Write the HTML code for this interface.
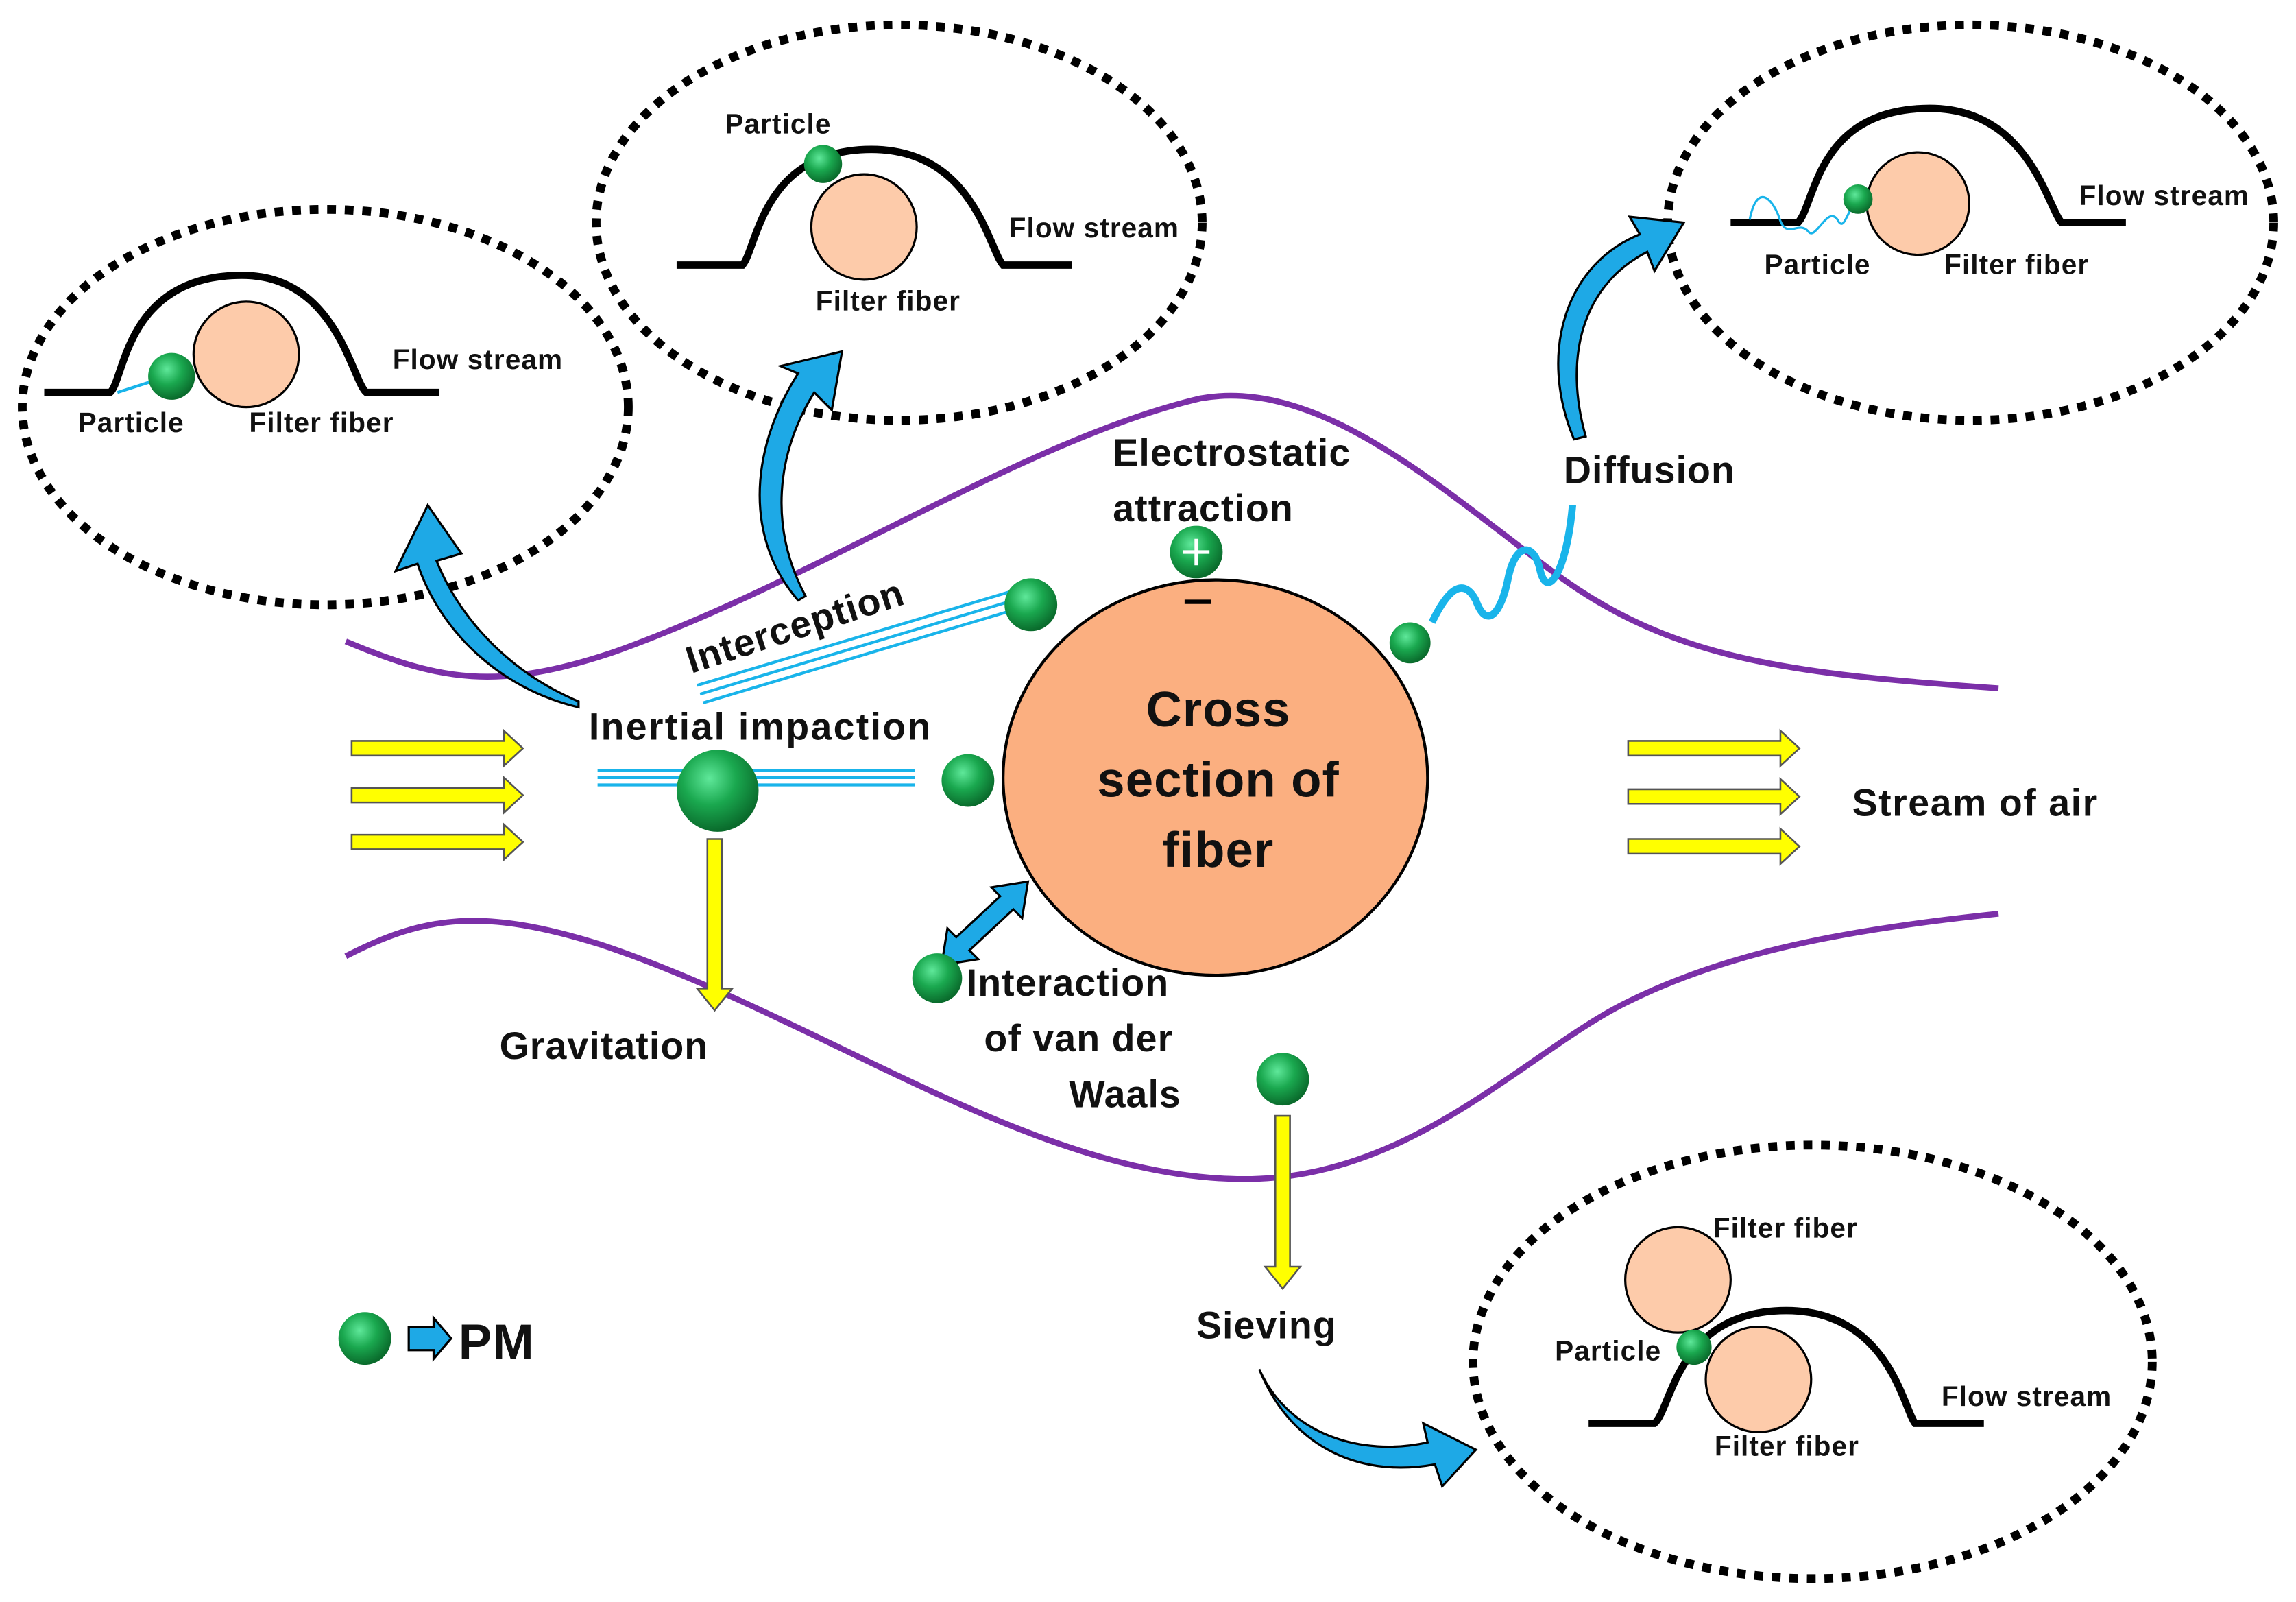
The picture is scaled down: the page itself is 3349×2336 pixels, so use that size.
<!DOCTYPE html>
<html><head><meta charset="utf-8"><style>
html,body{margin:0;padding:0;background:#fff;}
svg{display:block;}
text{font-family:"Liberation Sans",sans-serif;font-weight:bold;fill:#111;letter-spacing:0.5px;}
</style></head><body>
<svg width="3349" height="2336" viewBox="0 0 1568 1094" xmlns="http://www.w3.org/2000/svg">
<defs>
<radialGradient id="g" cx="40%" cy="35%" r="65%">
<stop offset="0" stop-color="#5fe89a"/><stop offset="0.5" stop-color="#1aa84f"/><stop offset="1" stop-color="#0a6b2c"/>
</radialGradient>
</defs>
<g fill="none" stroke="#000" stroke-width="6" stroke-dasharray="6 6">
<ellipse cx="222" cy="278" rx="207" ry="135"/>
<ellipse cx="614" cy="152" rx="207" ry="135"/>
<ellipse cx="1346" cy="152" rx="207" ry="135"/>
<ellipse cx="1238" cy="930" rx="232" ry="148"/>
</g>
<g fill="none" stroke="#7b2fa8" stroke-width="4">
<path d="M236,438 C300,465 340,472 420,445 C560,395 700,300 820,272 C900,258 980,330 1060,390 C1140,450 1220,460 1365,470"/>
<path d="M236,653 C290,625 330,620 410,645 C560,695 700,800 840,805 C960,810 1040,720 1110,685 C1180,650 1260,635 1365,624"/>
</g>
<ellipse cx="830" cy="531" rx="145" ry="135" fill="#FBAF80" stroke="#000" stroke-width="2"/>
<text x="832" y="496" font-size="34" text-anchor="middle">Cross</text>
<text x="832" y="544" font-size="34" text-anchor="middle">section of</text>
<text x="832" y="592" font-size="34" text-anchor="middle">fiber</text>
<g fill="#ffff00" stroke="#555" stroke-width="1.2">
<path d="M240,506 H344 V499 L357,511 L344,523 V516 H240Z"/>
<path d="M240,538 H344 V531 L357,543 L344,555 V548 H240Z"/>
<path d="M240,570 H344 V563 L357,575 L344,587 V580 H240Z"/>
<path d="M1112,506 H1216 V499 L1229,511 L1216,523 V516 H1112Z"/>
<path d="M1112,539 H1216 V532 L1229,544 L1216,556 V549 H1112Z"/>
<path d="M1112,573 H1216 V566 L1229,578 L1216,590 V583 H1112Z"/>
<path d="M483,573 H493 V675 H500 L488,690 L476,675 H483Z"/>
<path d="M871,762 H881 V865 H888 L876,880 L864,865 H871Z"/>
</g>
<g stroke="#19b4ea" stroke-width="2" fill="none">
<path d="M408,526 H625 M408,531 H625 M408,536 H625"/>
<path d="M476,468 L690,404 M478,474 L692,410 M480,480 L694,416"/>
<path d="M978,425 C990,400 1000,395 1008,410 C1015,430 1025,420 1030,395 C1035,370 1048,370 1052,390 C1057,410 1070,390 1074,345" stroke-width="5"/>
</g>
<g fill="#1ea9e6" stroke="#000" stroke-width="1.5">
<path d="M395,483 C340,470 300,430 285,385 L270,390 L292,345 L315,378 L298,383 C315,425 350,460 395,479Z"/>
<path d="M545,410 C510,370 510,310 545,255 L533,250 L575,240 L568,280 L556,268 C530,310 525,360 550,407Z"/>
<path d="M1075,300 C1050,240 1070,180 1120,160 L1113,148 L1150,152 L1130,185 L1125,172 C1080,195 1068,245 1083,298Z"/>
<path d="M860,935 C880,980 930,995 975,985 L972,972 L1008,990 L985,1015 L980,1000 C925,1010 880,985 860,935Z"/>
<path d="M653,640 L683,612 L677,606 L702,602 L698,627 L692,621 L662,649 L668,655 L643,659 L647,634Z"/>
<path d="M279,906 H296 V900 L308,914 L296,928 V922 H279Z"/>
</g>
<g fill="url(#g)">
<circle cx="490" cy="540" r="28"/>
<circle cx="704" cy="413" r="18"/>
<circle cx="661" cy="533" r="18"/>
<circle cx="963" cy="439" r="14"/>
<circle cx="817" cy="377" r="18"/>
<circle cx="640" cy="668" r="17"/>
<circle cx="876" cy="737" r="18"/>
<circle cx="249" cy="914" r="18"/>
</g>
<path d="M808,377 H826 M817,368 V386" stroke="#fff" stroke-width="2.5"/>
<path d="M809,411 H827" stroke="#000" stroke-width="3"/>
<text x="760" y="318" font-size="26">Electrostatic</text>
<text x="760" y="356" font-size="26">attraction</text>
<text x="1068" y="330" font-size="26">Diffusion</text>
<text x="402" y="505" font-size="26" textLength="234">Inertial impaction</text>
<text x="0" y="0" font-size="26" transform="translate(472,460) rotate(-18)">Interception</text>
<text x="1265" y="557" font-size="26" textLength="168">Stream of air</text>
<text x="341" y="723" font-size="26">Gravitation</text>
<text x="660" y="680" font-size="26">Interaction</text>
<text x="672" y="718" font-size="26">of van der</text>
<text x="730" y="756" font-size="26">Waals</text>
<text x="817" y="914" font-size="26">Sieving</text>
<text x="313" y="928" font-size="34">PM</text>
<path d="M30,268 H75 C85,260 85,188 165,188 C230,188 240,260 250,268 H300" fill="none" stroke="#000" stroke-width="5"/>
<line x1="80" y1="268" x2="108" y2="259" stroke="#19b4ea" stroke-width="2"/>
<circle cx="168" cy="242" r="36" fill="#FDCBAA" stroke="#000" stroke-width="1.5"/>
<circle cx="117" cy="257" r="16" fill="url(#g)"/>
<text x="53" y="295" font-size="19">Particle</text>
<text x="170" y="295" font-size="19">Filter fiber</text>
<text x="268" y="252" font-size="19">Flow stream</text>
<path d="M462,181 H507 C517,170 520,102 595,102 C665,102 675,170 685,181 H732" fill="none" stroke="#000" stroke-width="5"/>
<circle cx="590" cy="155" r="36" fill="#FDCBAA" stroke="#000" stroke-width="1.5"/>
<circle cx="562" cy="112" r="13" fill="url(#g)"/>
<text x="495" y="91" font-size="19">Particle</text>
<text x="557" y="212" font-size="19">Filter fiber</text>
<text x="689" y="162" font-size="19">Flow stream</text>
<path d="M1182,152 H1228 C1240,140 1240,74 1318,74 C1385,74 1398,140 1408,152 H1452" fill="none" stroke="#000" stroke-width="5"/>
<path d="M1195,150 C1200,125 1210,135 1215,148 C1220,165 1228,150 1235,158 C1240,165 1248,140 1255,150 C1260,160 1262,140 1268,140" fill="none" stroke="#19b4ea" stroke-width="1.5"/>
<circle cx="1310" cy="139" r="35" fill="#FDCBAA" stroke="#000" stroke-width="1.5"/>
<circle cx="1269" cy="136" r="10" fill="url(#g)"/>
<text x="1205" y="187" font-size="19">Particle</text>
<text x="1328" y="187" font-size="19">Filter fiber</text>
<text x="1420" y="140" font-size="19">Flow stream</text>
<path d="M1085,972 H1130 C1142,962 1145,895 1220,895 C1290,895 1300,962 1308,972 H1355" fill="none" stroke="#000" stroke-width="5"/>
<circle cx="1146" cy="874" r="36" fill="#FDCBAA" stroke="#000" stroke-width="1.5"/>
<circle cx="1201" cy="942" r="36" fill="#FDCBAA" stroke="#000" stroke-width="1.5"/>
<circle cx="1157" cy="920" r="12" fill="url(#g)"/>
<text x="1170" y="845" font-size="19">Filter fiber</text>
<text x="1062" y="929" font-size="19">Particle</text>
<text x="1171" y="994" font-size="19">Filter fiber</text>
<text x="1326" y="960" font-size="19">Flow stream</text>
</svg>
</body></html>
